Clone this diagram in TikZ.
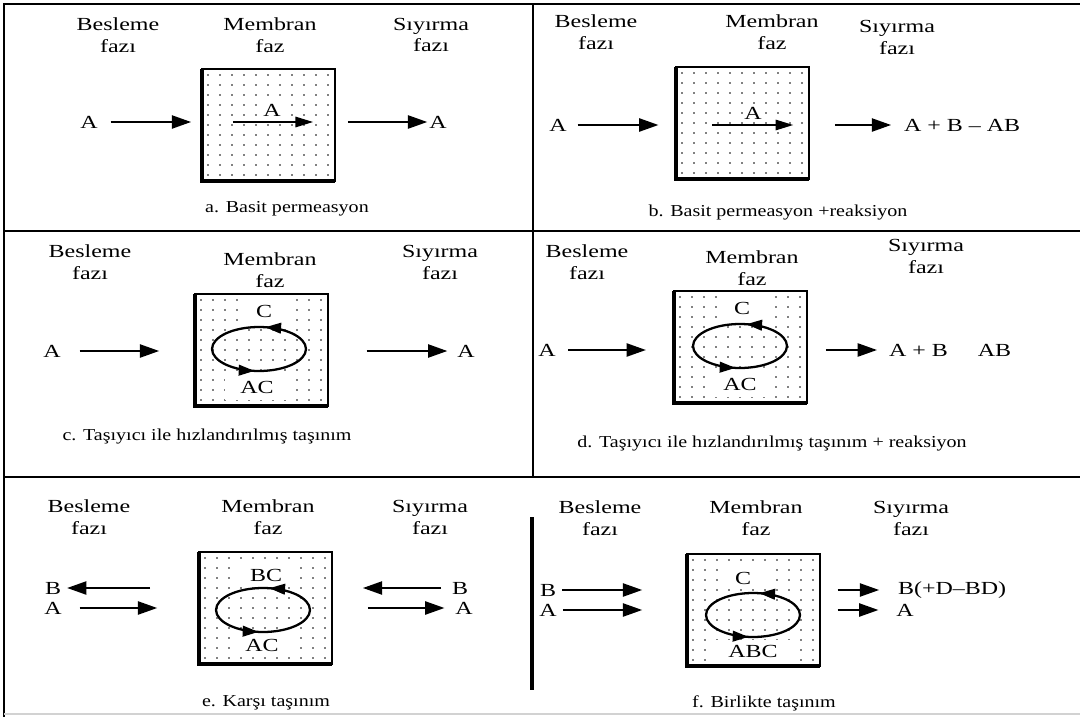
\documentclass[tikz,border=0pt]{standalone}
\usepackage{fontspec}
\newfontfamily\yazi{Liberation Serif}[FakeStretch=1.3]
\newfontfamily\altyazi{Liberation Serif}[FakeStretch=1.2]
\usetikzlibrary{arrows.meta,decorations.markings}
\begin{document}
\begin{tikzpicture}[x=0.02cm,y=-0.02cm,
  metin/.style={font=\yazi\fontsize{10.5}{12.5}\selectfont, inner sep=1pt},
  baslik/.style={metin, align=center},
  aciklama/.style={font=\altyazi\fontsize{9.5}{12}\selectfont, inner sep=1pt},
  etiket/.style={metin, fill=white},
  cerceve/.style={line width=1.2pt},
  oku/.style={line width=1.1pt, -{Triangle[length=11pt,width=7.5pt]}},
  ince/.style={line width=0.7pt, -{Triangle[length=10pt,width=6pt]}},
  kutu/.style={draw, line width=1pt, fill=white, inner sep=0pt, outer sep=0pt, anchor=north west,
    minimum width=2.66cm, minimum height=2.24cm},
  dongu/.style={line width=1.3pt, postaction=decorate, decoration={markings,
    mark=at position 0.222 with {\arrow{Triangle[length=9pt,width=6pt]}},
    mark=at position 0.73 with {\arrow{Triangle[length=9pt,width=6pt]}}}}]
  \fill[white] (0,0) rectangle (1080,717);
  \useasboundingbox (0,0) rectangle (1080,717);
  % panel frame
  \draw[cerceve] (4,717) -- (4,4) -- (1080,4);
  \draw[cerceve] (4,231) -- (1080,231);
  \draw[cerceve] (4,477) -- (1080,477);
  \draw[cerceve] (533,4) -- (533,477);
  \draw[line width=1.8pt] (532,517) -- (532,690);
  \draw[gray!35, line width=0.8pt] (4,714) -- (1080,714);
  % membranes with dots
  \foreach \k/\x/\y in {A/202/69, B/676/67, C/195/294, D/674/291, E/199/552, F/687/554}
    \node[kutu] (kutu\k) at (\x,\y) {};
  \foreach \k in {A,...,F} {
    \foreach \i in {0,...,10}
      \foreach \j in {0,...,10}
        \fill ([shift={(6+\i*12,6+\j*10)}]kutu\k.north west) circle[radius=0.55pt];
    \draw[line width=2.2pt] (kutu\k.north west) -- (kutu\k.south west) -- (kutu\k.south east);
  }
  % phase titles
  \foreach \k/\bx/\by/\mx/\my/\sx/\sy in {A/118/35/270/35/431/35, B/596/32/772/32/897/37,
      C/90/262/270/270/440/262, D/587/262/752/268/926/256,
      E/89/517/268/517/430/517, F/600/518/756/518/911/518} {
    \node[baslik] (bes\k) at (\bx,\by) {Besleme\\fazı};
    \node[baslik] (mem\k) at (\mx,\my) {Membran\\faz};
    \node[baslik] (siy\k) at (\sx,\sy) {Sıyırma\\fazı};
  }

  % a
  \node[metin] (aGir) at (89,122) {A};
  \node[metin] (aCik) at (438,122) {A};
  \node[etiket] (aIc) at (272,110) {A};
  \draw[oku, shorten <=6.2pt, shorten >=6.2pt] (aGir) -- (aGir -| kutuA.west);
  \draw[ince, shorten <=17.6pt, shorten >=12.5pt] (kutuA.west |- aGir) -- (kutuA.east |- aGir);
  \draw[oku, shorten <=7.4pt] (kutuA.east |- aCik) -- (aCik);
  \node[aciklama] (aAlt) at (287,209) {a. Basit permeasyon};

  % b
  \node[metin] (bGir) at (558,125) {A};
  \node[metin, anchor=west] (bCik) at (902,125) {A + B – AB};
  \node[etiket] (bIc) at (753,113) {A};
  \draw[oku, shorten <=5pt, shorten >=10pt] (bGir) -- (bGir -| kutuB.west);
  \draw[ince, shorten <=20.4pt, shorten >=9pt] (kutuB.west |- bGir) -- (kutuB.east |- bGir);
  \draw[oku, shorten <=14.7pt, shorten >=6.2pt] (kutuB.east |- bCik) -- (bCik);
  \node[aciklama] (bAlt) at (778,213) {b. Basit permeasyon +reaksiyon};

  % c
  \node[metin] (cGir) at (52,351) {A};
  \node[metin] (cCik) at (466,351) {A};
  \draw[oku, shorten <=9.6pt, shorten >=20.4pt] (cGir) -- (cGir -| kutuC.west);
  \draw[oku, shorten <=22pt, shorten >=4.5pt] (kutuC.east |- cCik) -- (cCik);
  \node[etiket, minimum width=1cm, minimum height=0.5cm] (cUst) at (264,311) {C};
  \node[etiket, minimum width=1.3cm, minimum height=0.5cm] (cAlt) at (257,387) {AC};
  \draw[dongu] (259,349) ellipse [x radius=0.94cm, y radius=0.44cm];
  \node[aciklama] (cYazi) at (207,437) {c. Taşıyıcı ile hızlandırılmış taşınım};

  % d
  \node[metin] (dGir) at (547,350) {A};
  \node[metin, anchor=west] (dCik) at (887,350) {A + B\hspace{17pt}AB};
  \draw[oku, shorten <=6pt, shorten >=16pt] (dGir) -- (dGir -| kutuD.west);
  \draw[oku, shorten <=10.8pt, shorten >=5.7pt] (kutuD.east |- dCik) -- (dCik);
  \node[etiket, minimum width=1cm, minimum height=0.5cm] (dUst) at (742,308) {C};
  \node[etiket, minimum width=1.3cm, minimum height=0.5cm] (dAlt) at (740,384) {AC};
  \draw[dongu] (740,346) ellipse [x radius=0.94cm, y radius=0.44cm];
  \node[aciklama] (dYazi) at (772,444) {d. Taşıyıcı ile hızlandırılmış taşınım + reaksiyon};

  % e
  \node[metin] (eGirB) at (53,588) {B};
  \node[metin] (eGirA) at (53,608) {A};
  \node[metin] (eCikB) at (460,588) {B};
  \node[metin] (eCikA) at (464,608) {A};
  \draw[oku, shorten <=27.8pt, shorten >=2.3pt] (eGirB -| kutuE.west) -- (eGirB);
  \draw[oku, shorten <=9pt, shorten >=23.8pt] (eGirA) -- (eGirA -| kutuE.west);
  \draw[oku, shorten <=5pt, shorten >=17.6pt] (eCikB) -- (eCikB -| kutuE.east);
  \draw[oku, shorten <=20.4pt, shorten >=5pt] (kutuE.east |- eCikA) -- (eCikA);
  \node[etiket, minimum width=1.2cm, minimum height=0.45cm] (eUst) at (266,575) {BC};
  \node[etiket, minimum width=1.3cm, minimum height=0.45cm] (eAlt) at (262,645) {AC};
  \draw[dongu] (263,610) ellipse [x radius=0.94cm, y radius=0.44cm];
  \node[aciklama] (eYazi) at (266,703) {e. Karşı taşınım};

  % f
  \node[metin] (fGirB) at (548,590) {B};
  \node[metin] (fGirA) at (548,610) {A};
  \node[metin, anchor=west] (fCikB) at (896,590) {B(+D–BD)};
  \node[metin] (fCikA) at (905,610) {A};
  \draw[oku, shorten <=2.3pt, shorten >=25.5pt] (fGirB) -- (fGirB -| kutuF.west);
  \draw[oku, shorten <=2.3pt, shorten >=25.5pt] (fGirA) -- (fGirA -| kutuF.west);
  \draw[oku, shorten <=10pt, shorten >=9.6pt] (kutuF.east |- fCikB) -- (fCikB);
  \draw[oku, shorten <=10pt, shorten >=9pt] (kutuF.east |- fCikA) -- (fCikA);
  \node[etiket, minimum width=1cm, minimum height=0.45cm] (fUst) at (743,578) {C};
  \node[etiket, minimum width=1.5cm, minimum height=0.45cm] (fAlt) at (753,651) {ABC};
  \draw[dongu] (753,615) ellipse [x radius=0.94cm, y radius=0.44cm];
  \node[aciklama] (fYazi) at (764,703) {f. Birlikte taşınım};
\end{tikzpicture}
\end{document}
